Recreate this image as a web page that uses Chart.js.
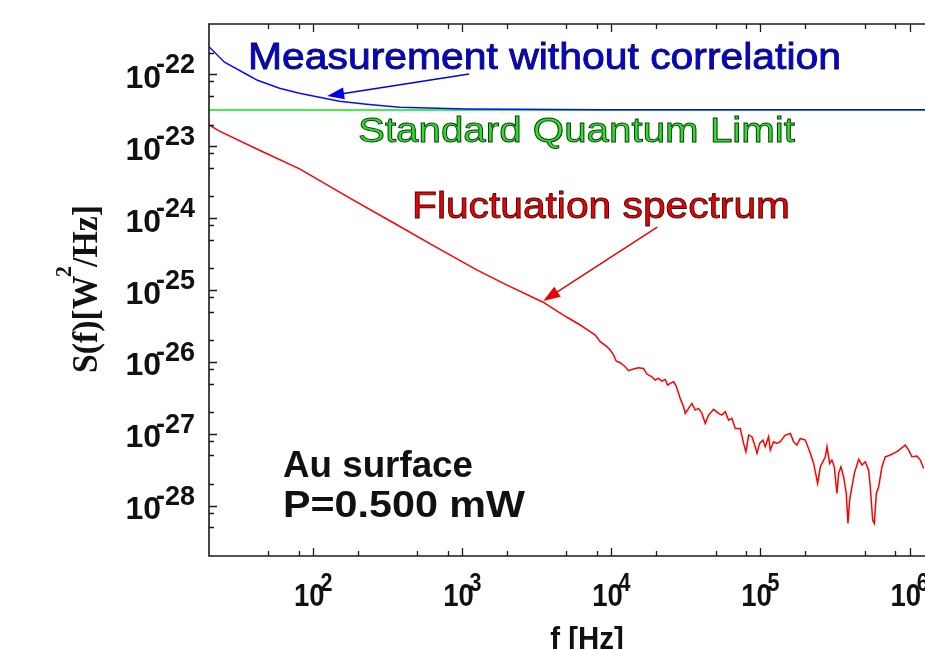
<!DOCTYPE html>
<html>
<head>
<meta charset="utf-8">
<script src="https://cdn.jsdelivr.net/npm/chart.js@4.4.1/dist/chart.umd.min.js"></script>
<style>
  html, body { margin: 0; padding: 0; background: #fff; overflow: hidden; }
  canvas { display: block; }
</style>
</head>
<body>
<canvas id="myChart" width="925" height="649"></canvas>
<script>
// values (f in Hz, S in W^2/Hz)
const measFreq = [19.8, 25.4, 35.7, 42.3, 59.4, 80.9, 110, 150, 228, 380, 1070, 8350, 1270000];
const measS = [2.46e-22, 1.47e-22, 1.0e-22, 8.24e-23, 6.38e-23, 5.43e-23, 4.78e-23, 4.2e-23, 3.82e-23, 3.47e-23, 3.3e-23, 3.22e-23, 3.22e-23];

const sqlFreq = [19.8, 1270000];
const sqlS = [3.18e-23, 3.18e-23];

const flucFreq = [19.8, 23.5, 44, 81, 175, 340, 631, 1250, 1980, 3460, 5010,
  6180, 6850, 7800, 8420, 9330, 9820, 10340, 10770, 11460, 12380, 13030, 14080, 15210, 16440,
  17300, 18700, 19680, 20730, 21830, 22980, 23830, 24830, 26140, 27230, 28960, 30490, 31300,
  32960, 34700, 36530, 38460, 40490, 42630, 44880, 48490, 52400, 55150, 58070, 61130, 64360,
  67750, 73200, 77080, 79920, 83320, 87700, 92300, 94790, 98700, 103900, 107700, 113400,
  116400, 122500, 129000, 135800, 146800, 158600, 167000, 175800, 185000, 200000, 216000,
  227400, 241900, 252300, 272500, 279500, 291300, 301700, 312800, 325800, 334700, 346700,
  361300, 376400, 386400, 396400, 411000, 426500, 455900, 479900, 505100, 531700, 545500,
  565800, 580500, 598900, 620900, 653400, 687800, 743200, 823600, 937200, 986400, 1038000,
  1122000, 1182000, 1244000];
const flucS = [2.01e-23, 1.62e-23, 8.7e-24, 4.84e-24, 1.91e-24, 8.75e-25, 4.22e-25, 1.9e-25, 1.18e-25, 6.82e-26, 4.21e-26,
  3.26e-26, 2.83e-26, 2.36e-26, 1.91e-26, 1.63e-26, 1.46e-26, 1.25e-26, 1.03e-26, 9.75e-27, 8.58e-27, 7.54e-27, 7.96e-27, 8.3e-27, 8.12e-27,
  6.78e-27, 6.22e-27, 5.6e-27, 5.9e-27, 5.42e-27, 5.71e-27, 4.76e-27, 5.02e-27, 5.3e-27, 4.61e-27, 3.11e-27, 2.38e-27, 1.92e-27,
  2.26e-27, 2.65e-27, 2.14e-27, 2.26e-27, 1.92e-27, 1.4e-27, 1.82e-27, 2.19e-27, 1.92e-27, 1.82e-27, 2.03e-27, 1.55e-27, 1.64e-27,
  1.19e-27, 1.19e-27, 7.36e-28, 5.64e-28, 9.61e-28, 9.12e-28, 6.61e-28, 5.35e-28, 7.36e-28, 8.18e-28, 6.61e-28, 9.12e-28,
  5.94e-28, 7.76e-28, 7.36e-28, 7.76e-28, 9.61e-28, 1.01e-27, 7.76e-28, 6.98e-28, 8.63e-28, 8.18e-28, 5.35e-28,
  3.88e-28, 2.04e-28, 3.48e-28, 4.8e-28, 6.61e-28, 3.88e-28, 4.32e-28, 3.48e-28, 1.48e-28, 2.82e-28, 3.48e-28,
  2.53e-28, 1.48e-28, 5.68e-29, 1.2e-28, 1.84e-28, 2.82e-28, 4.41e-28, 3.67e-28, 4.09e-28, 3.13e-28, 1.84e-28,
  6.31e-29, 5.68e-29, 1.48e-28, 1.84e-28, 3.48e-28, 4.8e-28, 5.07e-28, 5.64e-28, 6.98e-28, 5.94e-28, 4.8e-28,
  4.91e-28, 4.32e-28, 3.3e-28];

// axes
const xMin = 20, xMax = 1.27e6;
const yMin = 2e-29, yMax = 5e-22;
const xTickExp = [2, 3, 4, 5, 6];
const yTickExp = [-22, -23, -24, -25, -26, -27, -28];
const minorMult = [2, 5, 8];

const SANS = '"Liberation Sans", Arial, sans-serif';
const SERIF = '"Liberation Serif", "Times New Roman", serif';

function pts(xs, ys) {
  return xs.map((x, i) => ({ x: x, y: ys[i] }));
}

function fitText(ctx, text, left, base, width, font, fill, stroke, sw) {
  ctx.save();
  ctx.font = font;
  const w = ctx.measureText(text).width;
  ctx.translate(left, base);
  ctx.scale(width / w, 1);
  ctx.textAlign = 'left';
  ctx.textBaseline = 'alphabetic';
  ctx.fillStyle = fill;
  ctx.fillText(text, 0, 0);
  if (stroke) {
    ctx.lineWidth = sw;
    ctx.strokeStyle = stroke;
    ctx.strokeText(text, 0, 0);
  }
  ctx.restore();
}

function arrow(ctx, x0, y0, x1, y1, color) {
  const a = Math.atan2(y1 - y0, x1 - x0);
  const len = 17, hw = 6;
  ctx.save();
  ctx.strokeStyle = color;
  ctx.fillStyle = color;
  ctx.lineWidth = 1.5;
  ctx.beginPath();
  ctx.moveTo(x0, y0);
  ctx.lineTo(x1 - Math.cos(a) * len * 0.8, y1 - Math.sin(a) * len * 0.8);
  ctx.stroke();
  ctx.beginPath();
  ctx.moveTo(x1, y1);
  ctx.lineTo(x1 - Math.cos(a) * len - Math.sin(a) * hw, y1 - Math.sin(a) * len + Math.cos(a) * hw);
  ctx.lineTo(x1 - Math.cos(a) * len + Math.sin(a) * hw, y1 - Math.sin(a) * len - Math.cos(a) * hw);
  ctx.closePath();
  ctx.fill();
  ctx.restore();
}

function tickValues(lo, hi) {
  const out = [];
  const d0 = Math.floor(Math.log10(lo)) - 1, d1 = Math.ceil(Math.log10(hi));
  for (let d = d0; d <= d1; d++) {
    const base = Math.pow(10, d);
    if (base >= lo && base <= hi) out.push({ v: base, major: true });
    minorMult.forEach(m => {
      const v = m * base;
      if (v > lo * 1.0001 && v < hi) out.push({ v: v, major: false });
    });
  }
  return out;
}

const frame = {
  id: 'frame',
  afterDraw(chart) {
    const ctx = chart.ctx;
    const a = chart.chartArea;
    const xs = chart.scales.x, ys = chart.scales.y;
    ctx.save();
    ctx.strokeStyle = '#1a1a1a';
    ctx.lineWidth = 1.6;
    ctx.beginPath();
    ctx.moveTo(a.right + 2, a.top);
    ctx.lineTo(a.left, a.top);
    ctx.lineTo(a.left, a.bottom);
    ctx.lineTo(a.right + 2, a.bottom);
    ctx.stroke();

    // inward ticks
    ctx.lineWidth = 1.3;
    ctx.beginPath();
    tickValues(xMin, xMax).forEach(t => {
      const p = Math.round(xs.getPixelForValue(t.v)) + 0.5;
      const l = t.major ? 8 : 5;
      ctx.moveTo(p, a.bottom); ctx.lineTo(p, a.bottom - l);
      ctx.moveTo(p, a.top); ctx.lineTo(p, a.top + l);
    });
    tickValues(yMin, yMax).forEach(t => {
      const p = Math.round(ys.getPixelForValue(t.v)) + 0.5;
      const l = t.major ? 8 : 5;
      ctx.moveTo(a.left, p); ctx.lineTo(a.left + l, p);
    });
    ctx.stroke();

    // tick labels
    ctx.fillStyle = '#111';
    ctx.textBaseline = 'alphabetic';
    xTickExp.forEach(e => {
      const p = xs.getPixelForValue(Math.pow(10, e));
      ctx.save();
      ctx.translate(p, a.bottom + 50);
      ctx.scale(0.86, 1);
      ctx.font = 'bold 32px ' + SANS;
      const wb = ctx.measureText('10').width;
      ctx.font = 'bold 25px ' + SANS;
      const wsup = ctx.measureText(String(e)).width;
      const start = -(wb + wsup - 5) / 2;
      ctx.textAlign = 'left';
      ctx.font = 'bold 32px ' + SANS;
      ctx.fillText('10', start, 0);
      ctx.font = 'bold 25px ' + SANS;
      ctx.fillText(String(e), start + wb - 5, -15);
      ctx.restore();
    });
    yTickExp.forEach(e => {
      const p = ys.getPixelForValue(Math.pow(10, e));
      const right = a.left - 14;
      ctx.textAlign = 'right';
      ctx.font = 'bold 27px ' + SANS;
      const sup = '-' + String(-e);
      const wsup = ctx.measureText(sup).width;
      ctx.fillText(sup, right, p - 1);
      ctx.font = 'bold 32px ' + SANS;
      ctx.fillText('10', right - wsup + 5, p + 13.5);
    });

    // axis titles
    ctx.save();
    ctx.translate(587, a.bottom + 93);
    ctx.scale(0.92, 1);
    ctx.textAlign = 'center';
    ctx.font = 'bold 32px ' + SANS;
    ctx.fillText('f [Hz]', 0, 0);
    ctx.restore();

    ctx.save();
    ctx.translate(96.5, 289);
    ctx.rotate(-Math.PI / 2);
    ctx.textAlign = 'left';
    ctx.font = 'bold 36px ' + SERIF;
    const w1 = ctx.measureText('S(f)[W').width;
    const w3 = ctx.measureText('/Hz]').width;
    ctx.font = 'bold 24px ' + SERIF;
    const w2 = ctx.measureText('2').width;
    const total = w1 + w2 + w3 - 3;
    ctx.scale(168 / total, 1);
    let x0 = -total / 2;
    ctx.font = 'bold 36px ' + SERIF;
    ctx.fillText('S(f)[W', x0, 0);
    ctx.font = 'bold 24px ' + SERIF;
    ctx.fillText('2', x0 + w1 - 2, -26);
    ctx.font = 'bold 36px ' + SERIF;
    ctx.fillText('/Hz]', x0 + w1 + w2 - 3, 0);
    ctx.restore();

    // annotations
    fitText(ctx, 'Measurement without correlation', 248, 68.5, 593, '37px ' + SANS, '#0000f0', '#101040', 0.9);
    fitText(ctx, 'Standard Quantum Limit', 358, 141.7, 437, '35px ' + SANS, '#22e622', '#143014', 0.9);
    fitText(ctx, 'Fluctuation spectrum', 412, 217.5, 378, '37px ' + SANS, '#f00000', '#3a0c0c', 0.9);
    fitText(ctx, 'Au surface', 283, 476.5, 190, 'bold 36px ' + SANS, '#111');
    fitText(ctx, 'P=0.500 mW', 283, 517, 242, 'bold 36px ' + SANS, '#111');

    arrow(ctx, xs.getPixelForValue(1112), ys.getPixelForValue(1.01e-22),
      xs.getPixelForValue(124), ys.getPixelForValue(4.99e-23), '#0000ee');
    arrow(ctx, xs.getPixelForValue(20300), ys.getPixelForValue(7.51e-25),
      xs.getPixelForValue(3490), ys.getPixelForValue(7.02e-26), '#ee0000');
    ctx.restore();
  }
};

new Chart(document.getElementById('myChart'), {
  type: 'line',
  data: {
    datasets: [
      { label: 'Measurement without correlation', data: pts(measFreq, measS), borderColor: '#0a0aff', borderWidth: 1.5, pointRadius: 0, tension: 0 },
      { label: 'Fluctuation spectrum', data: pts(flucFreq, flucS), borderColor: '#ff0000', borderWidth: 1.5, pointRadius: 0, tension: 0 },
      { label: 'Standard Quantum Limit', data: pts(sqlFreq, sqlS), borderColor: '#44ee44', borderWidth: 2, pointRadius: 0, tension: 0 }
    ]
  },
  options: {
    responsive: false,
    animation: false,
    devicePixelRatio: 1,
    layout: { padding: { left: 209, top: 24, right: 0, bottom: 93 } },
    scales: {
      x: { type: 'logarithmic', min: xMin, max: xMax, display: false },
      y: { type: 'logarithmic', min: yMin, max: yMax, display: false }
    },
    plugins: {
      legend: { display: false },
      tooltip: { enabled: false }
    }
  },
  plugins: [frame]
});
</script>
</body>
</html>
